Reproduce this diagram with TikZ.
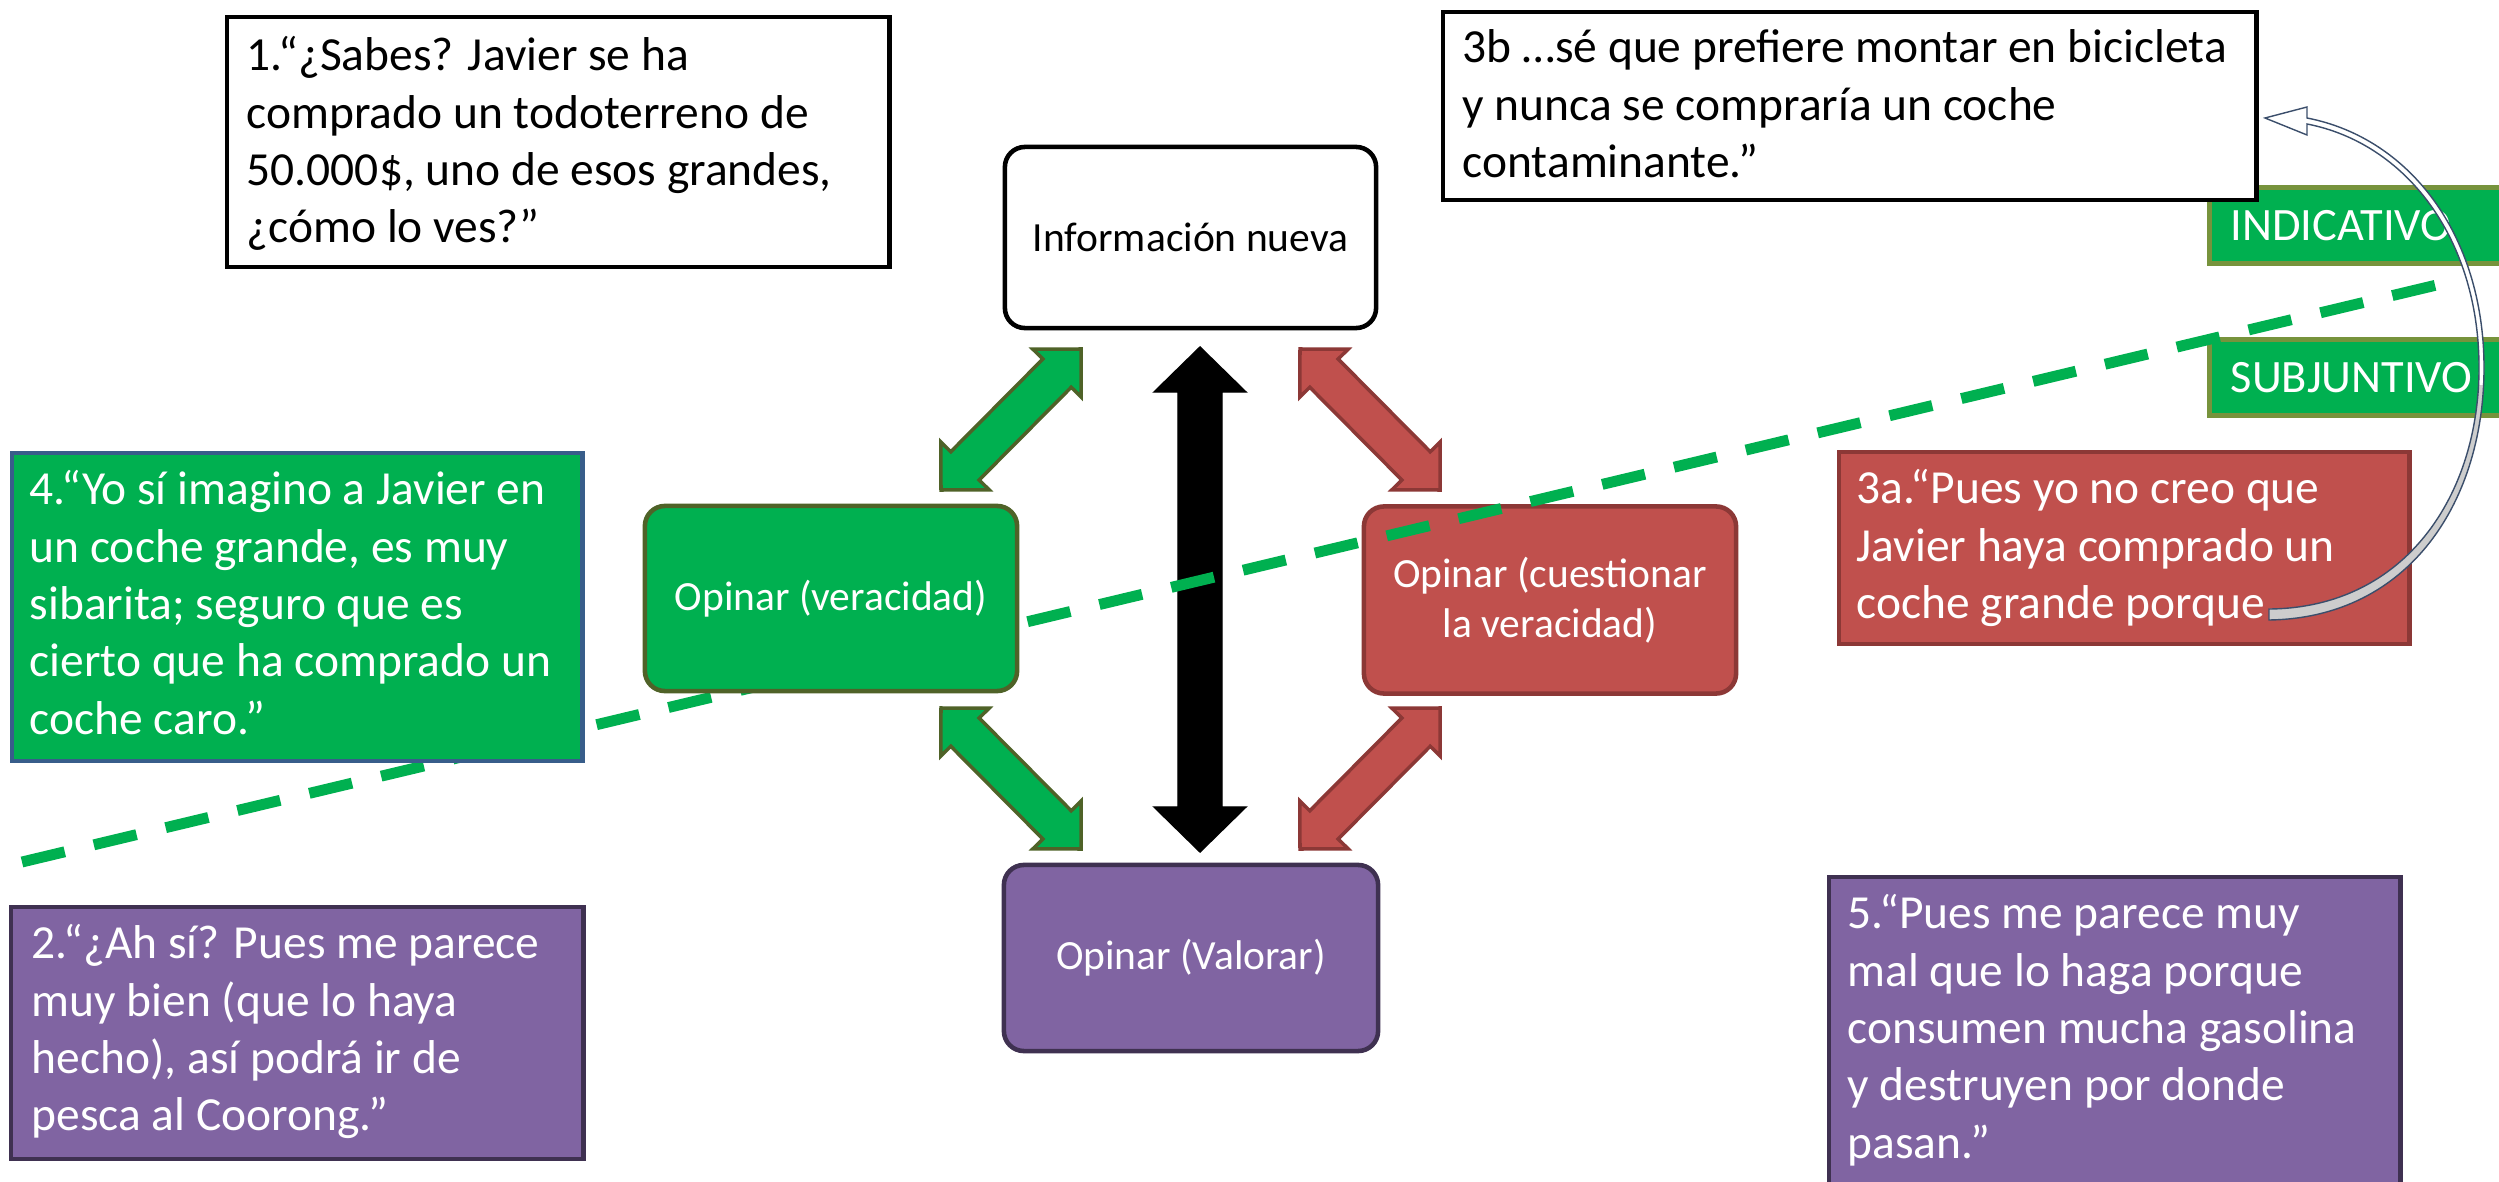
\documentclass[tikz,border=0pt]{standalone}
\usepackage{fontspec}
\setmainfont{Carlito}
\usetikzlibrary{calc}

\definecolor{vgreen}{HTML}{00B050}
\definecolor{olive}{HTML}{4F6228}
\definecolor{tagedge}{HTML}{77933C}
\definecolor{bluedge}{HTML}{385D8A}
\definecolor{brick}{HTML}{C0504D}
\definecolor{brickedge}{HTML}{8C3836}
\definecolor{lilac}{HTML}{8064A2}
\definecolor{lilacedge}{HTML}{3F3151}
\definecolor{slate}{HTML}{3B4E6B}
\definecolor{ribbon}{HTML}{CDCDCD}

% strut that fixes the height of the first line of a quotation
\newcommand\lnstrut{\rule{0pt}{12pt}}

% block double arrow between two tips: #1 style, #2 tip A, #3 tip B,
% #4 head length, #5 head half width, #6 shaft half width
\newcommand\dblblock[6]{%
  \draw[#1] (#2)
    -- ($(#2)!#4!(#3)!#5!90:(#3)$)
    -- ($(#2)!#4!(#3)!#6!90:(#3)$)
    -- ($(#3)!#4!(#2)!#6!-90:(#2)$)
    -- ($(#3)!#4!(#2)!#5!-90:(#2)$)
    -- (#3)
    -- ($(#3)!#4!(#2)!#5!90:(#2)$)
    -- ($(#3)!#4!(#2)!#6!90:(#2)$)
    -- ($(#2)!#4!(#3)!#6!-90:(#3)$)
    -- ($(#2)!#4!(#3)!#5!-90:(#3)$)
    -- cycle;}

% curved ribbon arrow from the end of 3a up to 3b
\def\ribbonpath{(2269,620) .. controls (2410,618) and (2485,500) .. (2484,365)
  .. controls (2483,235) and (2410,138) .. (2307,118)
  -- (2307,107) -- (2265,118) -- (2307,135) -- (2307,124)
  .. controls (2405,143) and (2478,237) .. (2479,365)
  .. controls (2480,495) and (2405,608) .. (2269,609) -- cycle}

\begin{document}
\begin{tikzpicture}[x=0.01cm,y=-0.01cm,
  core/.style={rounded corners=2mm, line width=1.3pt, inner sep=0pt, align=center,
    font=\fontsize{11.8}{14.2}\selectfont},
  panel/.style={line width=1.2pt, anchor=north west, inner sep=0pt},
  says/.style={anchor=north west, inner sep=0pt, align=left,
    font=\fontsize{13.5}{16.3}\selectfont},
  tag/.style={fill=vgreen, draw=tagedge, line width=1.5pt, anchor=north west,
    inner sep=0pt, minimum width=3.2cm, minimum height=0.76cm},
  tagtext/.style={anchor=west, inner sep=0pt, text=white,
    font=\fontsize{13.2}{15}\selectfont},
  greenarrow/.style={fill=vgreen, draw=olive, line width=1pt},
  redarrow/.style={fill=brick, draw=brickedge, line width=1pt},
  ]
\path[use as bounding box] (0,0) rectangle (2499,1182);
\clip (0,0) rectangle (2499,1182);

% tips of the block arrows
\coordinate (k1) at (1200,347);  \coordinate (k2) at (1200,852);
\coordinate (g1) at (1081,349);  \coordinate (g2) at (941,490);
\coordinate (g3) at (941,708);   \coordinate (g4) at (1081,849);
\coordinate (r1) at (1300,349);  \coordinate (r2) at (1440,490);
\coordinate (r3) at (1440,708);  \coordinate (r4) at (1300,849);

% black vertical double arrow
\dblblock{fill=black}{k1}{k2}{0.45cm}{0.46cm}{0.22cm}

% red branch
\node[core, fill=brick, draw=brickedge, text=white, minimum width=3.72cm,
  minimum height=1.87cm] (cuest) at (1550,600) {Opinar (cuestionar\\la veracidad)};
\dblblock{redarrow}{r1}{r2}{0.34cm}{0.34cm}{0.20cm}
\dblblock{redarrow}{r3}{r4}{0.34cm}{0.34cm}{0.20cm}

% mood labels
\node[tag] (ind) at (2207,185) {};
\node[tagtext] (tind) at ($(ind.west)+(23,0)$) {INDICATIVO};
\node[tag] (sub) at (2207,337) {};
\node[tagtext] (tsub) at ($(sub.west)+(23,0)$) {SUBJUNTIVO};

% dividing line between the two moods
\coordinate (dashL) at (22,862);
\coordinate (dashR) at (2445,283);
\draw[vgreen, line width=3.1pt, dash pattern=on 12.5pt off 8.5pt] (dashL) -- (dashR);

% central diagram
\node[core, fill=white, draw=black, minimum width=3.71cm, minimum height=1.81cm]
  (info) at (1190.5,237.5) {Información nueva};
\node[core, fill=vgreen, draw=olive, text=white, minimum width=3.72cm,
  minimum height=1.85cm] (verac) at (831,598.5) {Opinar (veracidad)};
\node[core, fill=lilac, draw=lilacedge, text=white, minimum width=3.74cm,
  minimum height=1.86cm] (valor) at (1191,958) {Opinar (Valorar)};
\dblblock{greenarrow}{g1}{g2}{0.34cm}{0.34cm}{0.20cm}
\dblblock{greenarrow}{g3}{g4}{0.34cm}{0.34cm}{0.20cm}

% quotations
\node[panel, fill=white, draw=black, minimum width=6.62cm, minimum height=2.5cm]
  (q1) at (225,15) {};
\node[says] (t1) at ($(q1.north west)+(21,13)$)
  {\lnstrut 1.“¿Sabes? Javier se ha\\comprado un todoterreno de\\50.000\$, uno de esos grandes,\\¿cómo lo ves?”};

\node[panel, fill=white, draw=black, minimum width=8.13cm, minimum height=1.88cm]
  (q3b) at (1441,10) {};
\node[says] (t3b) at ($(q3b.north west)+(21,10)$)
  {\lnstrut 3b …sé que prefiere montar en bicicleta\\y nunca se compraría un coche\\contaminante.”};

\node[panel, fill=vgreen, draw=bluedge, minimum width=5.7cm, minimum height=3.08cm]
  (q4) at (10,451) {};
\node[says, text=white] (t4) at ($(q4.north west)+(19,11)$)
  {\lnstrut 4.“Yo sí imagino a Javier en\\un coche grande, es muy\\sibarita; seguro que es\\cierto que ha comprado un\\coche caro.”};

\node[panel, fill=lilac, draw=lilacedge, minimum width=5.72cm, minimum height=2.52cm]
  (q2) at (9,905) {};
\node[says, text=white] (t2) at ($(q2.north west)+(22,11)$)
  {\lnstrut 2.“¿Ah sí? Pues me parece\\muy bien (que lo haya\\hecho), así podrá ir de\\pesca al Coorong.”};

\node[panel, fill=brick, draw=brickedge, minimum width=5.7cm, minimum height=1.92cm]
  (q3a) at (1837,450) {};
\node[says, text=white] (t3a) at ($(q3a.north west)+(19,11)$)
  {\lnstrut 3a.“Pues yo no creo que\\Javier haya comprado un\\coche grande porque};

\node[panel, fill=lilac, draw=lilacedge, minimum width=5.71cm, minimum height=3.4cm]
  (q5) at (1827,875) {};
\node[says, text=white] (t5) at ($(q5.north west)+(20,11)$)
  {\lnstrut 5.“Pues me parece muy\\mal que lo haga porque\\consumen mucha gasolina\\y destruyen por donde\\pasan.”};

% curved ribbon arrow: shaded underside below, light face above
\fill[white] \ribbonpath;
\begin{scope}
  \clip (2200,385) rectangle (2499,700);
  \fill[ribbon] \ribbonpath;
\end{scope}
\draw[slate, line width=0.4pt, line join=miter] \ribbonpath;
\end{tikzpicture}
\end{document}
